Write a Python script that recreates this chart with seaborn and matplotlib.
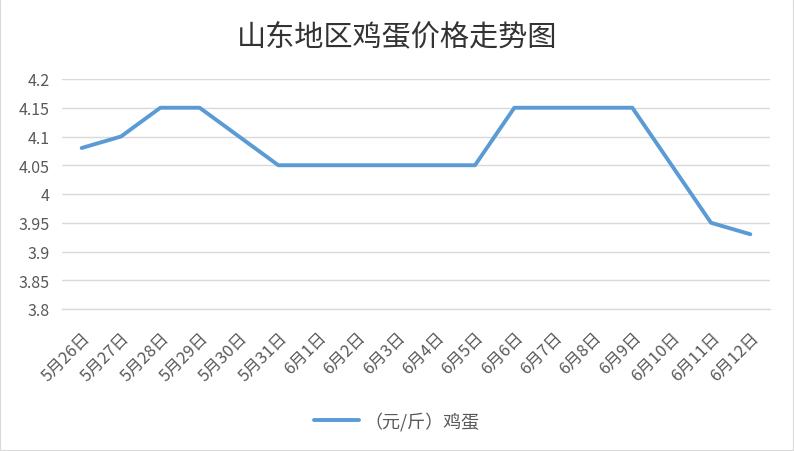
import matplotlib
matplotlib.use("Agg")
import matplotlib.pyplot as plt
import seaborn as sns
import pandas as pd
import numpy as np
from matplotlib.patches import Rectangle
from matplotlib.lines import Line2D

dates = ["5月26日", "5月27日", "5月28日", "5月29日", "5月30日", "5月31日",
         "6月1日", "6月2日", "6月3日", "6月4日", "6月5日", "6月6日",
         "6月7日", "6月8日", "6月9日", "6月10日", "6月11日", "6月12日"]
prices = [4.08, 4.10, 4.15, 4.15, 4.10, 4.05,
          4.05, 4.05, 4.05, 4.05, 4.05, 4.15,
          4.15, 4.15, 4.15, 4.05, 3.95, 3.93]
yticks = [3.8, 3.85, 3.9, 3.95, 4.0, 4.05, 4.1, 4.15, 4.2]
ytick_labels = ["3.8", "3.85", "3.9", "3.95", "4", "4.05", "4.1", "4.15", "4.2"]
series_name = "（元/斤）鸡蛋"
title = "山东地区鸡蛋价格走势图"

sns.set_style("white")
plt.rcParams['font.family'] = ['Noto Sans CJK SC', 'DejaVu Sans']

df = pd.DataFrame({"date": dates, "price": prices})

fig = plt.figure(figsize=(7.94, 4.52), dpi=100)
ax = fig.add_axes([62/794, 1 - 310/452, (770-62)/794, (310-80)/452])

sns.lineplot(data=df, x="date", y="price", ax=ax, color="#5B9BD5",
             linewidth=2.8, sort=False)

ax.set_ylim(3.8, 4.2)
ax.set_xlim(-0.5, len(dates) - 0.5)
ax.set_yticks(yticks)
ax.set_yticklabels(ytick_labels, fontsize=11.5, color="#595959")
ax.yaxis.grid(True, color="#d9d9d9", linewidth=1)
ax.set_axisbelow(True)
ax.set_xlabel("")
ax.set_ylabel("")
for s in ["left", "right", "top"]:
    ax.spines[s].set_visible(False)
ax.spines["bottom"].set_color("#d9d9d9")
ax.spines["bottom"].set_linewidth(1)

ax.set_xticks(range(len(dates)))
ax.set_xticklabels(dates, rotation=45, ha="right", rotation_mode="anchor",
                   fontsize=12, color="#595959")
ax.tick_params(axis="x", which="major", length=0, pad=14)
ax.set_xticks(np.arange(-0.5, len(dates), 1.0), minor=True)
ax.tick_params(axis="x", which="minor", length=5, color="#d9d9d9", width=1,
               direction="out")
ax.tick_params(axis="y", length=0, pad=9)

fig.text(0.5, 1 - 37/452, title, ha="center", va="center",
         fontsize=21, color="#333333", fontweight="medium")

handle = Line2D([], [], color="#5B9BD5", linewidth=2.8)
fig.legend([handle], [series_name], loc="center", bbox_to_anchor=(0.5, 1 - 422/452),
           frameon=False, fontsize=13, labelcolor="#595959",
           handlelength=2.5, handletextpad=0.3)

fig.patches.append(Rectangle((0, 0), 1, 1, transform=fig.transFigure,
                             fill=False, edgecolor="#d9d9d9", linewidth=1.5))

fig.savefig("out.png", dpi=100, facecolor="white")
